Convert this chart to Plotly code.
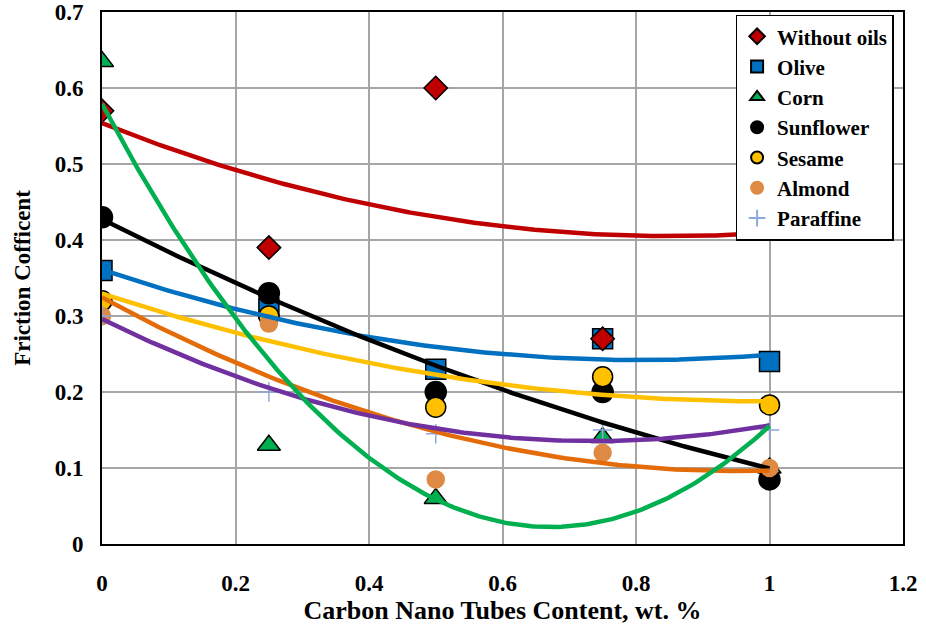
import numpy as np
import plotly.graph_objects as go

cnt = [0, 0.25, 0.5, 0.75, 1.0]

without_oils = [0.57, 0.39, 0.60, 0.27, 0.45]
olive = [0.36, 0.31, 0.23, 0.27, 0.24]
corn = [0.635, 0.13, 0.06, 0.14, 0.10]
sunflower = [0.43, 0.33, 0.20, 0.20, 0.085]
sesame = [0.32, 0.30, 0.18, 0.22, 0.183]
almond = [0.30, 0.29, 0.085, 0.12, 0.10]
paraffine = [0.30, 0.20, 0.145, 0.15, 0.15]

x_ticks = [0, 0.2, 0.4, 0.6, 0.8, 1, 1.2]
x_labels = ["0", "0.2", "0.4", "0.6", "0.8", "1", "1.2"]
y_ticks = [0, 0.1, 0.2, 0.3, 0.4, 0.5, 0.6, 0.7]
y_labels = ["0", "0.1", "0.2", "0.3", "0.4", "0.5", "0.6", "0.7"]

FONT = "Liberation Serif"

series = [
    # name, data, marker symbol, fill, outline, size, trend color, legend rank
    ("Olive", olive, "square", "#0070C0", "#000000", 20, "#0070C0", 2),
    ("Without oils", without_oils, "diamond", "#C00000", "#000000", 18, "#C00000", 1),
    ("Corn", corn, "triangle-up", "#00B050", "#000000", 20, "#00B050", 3),
    ("Sunflower", sunflower, "circle", "#000000", "#000000", 21, "#000000", 4),
    ("Sesame", sesame, "circle", "#FFC000", "#000000", 20, "#FFC000", 5),
    ("Almond", almond, "circle", "#DE8A45", "#DE8A45", 17, "#E36C09", 6),
    ("Paraffine", paraffine, "cross-thin", "#8EA9DB", "#8EA9DB", 14, "#7030A0", 7),
]

fig = go.Figure()

for name, ys, sym, fill, outline, size, tcol, rank in series:
    fig.add_trace(go.Scatter(
        x=cnt, y=ys, mode="markers", name=name, legendrank=rank,
        marker=dict(symbol=sym, color=fill, size=size,
                    line=dict(color=outline, width=1.5)),
    ))

xs = np.linspace(0, 1, 200)
line_order = ["Without oils", "Olive", "Sunflower", "Sesame", "Almond", "Paraffine", "Corn"]
lookup = {s[0]: s for s in series}
for nm in line_order:
    name, ys, sym, fill, outline, size, tcol, rank = lookup[nm]
    coef = np.polyfit(cnt, ys, 2)
    fig.add_trace(go.Scatter(
        x=xs, y=np.polyval(coef, xs), mode="lines", showlegend=False,
        line=dict(color=tcol, width=4.5), hoverinfo="skip",
    ))

axis_common = dict(
    showgrid=True, gridcolor="#A6A6A6", gridwidth=1.5,
    showline=True, linecolor="#000000", linewidth=2, mirror=True,
    zeroline=False, ticks="", automargin=False, ticklabeloverflow="allow",
    tickfont=dict(family=FONT, size=23, color="#000000", weight="bold"),
    title_font=dict(family=FONT, size=26, color="#000000", weight="bold"),
)

fig.update_xaxes(range=[0, 1.2], tickvals=x_ticks, ticktext=x_labels,
                 title_text="Carbon Nano Tubes Content, wt. %", title_standoff=3,
                 ticklabelstandoff=17, **axis_common)
fig.update_yaxes(range=[0, 0.7], tickvals=y_ticks, ticktext=y_labels,
                 title_text="Friction Cofficent", title_standoff=18,
                 ticklabelstandoff=12, **axis_common)
fig.update_yaxes(title_font_size=23)

fig.update_layout(
    width=926, height=627,
    margin=dict(l=102, r=23, t=12, b=83),
    plot_bgcolor="#FFFFFF", paper_bgcolor="#FFFFFF",
    legend=dict(
        x=0.791, y=0.995, xanchor="left", yanchor="top",
        bgcolor="#FFFFFF", bordercolor="#000000", borderwidth=1.5,
        font=dict(family=FONT, size=21, color="#000000", weight="bold"),
        itemsizing="constant", tracegroupgap=0,
    ),
    showlegend=True,
)

fig.write_html("out.html")
